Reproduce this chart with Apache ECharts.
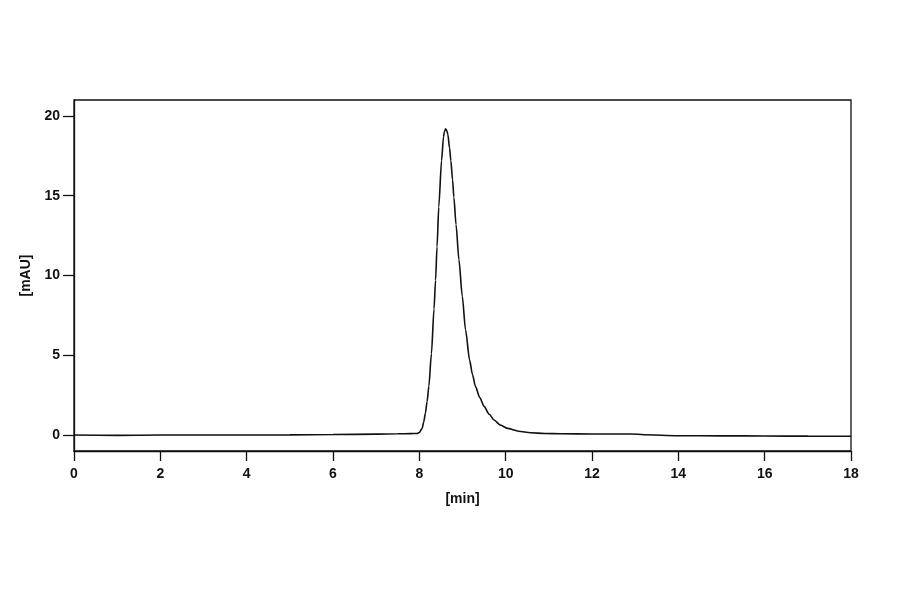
<!DOCTYPE html>
<html>
<head>
<meta charset="utf-8">
<script src="https://cdn.jsdelivr.net/npm/echarts@6/dist/echarts.min.js"></script>
<style>
  html, body { margin: 0; padding: 0; background: #fff; }
  #chart { width: 900px; height: 594px; }
</style>
</head>
<body>
<div id="chart"></div>
<script>
// retention time [min]
var times = [0, 1, 2, 3, 4, 5, 6, 7, 7.5, 7.8, 7.95, 8.0, 8.065, 8.10, 8.14, 8.18, 8.22, 8.28, 8.34, 8.376,
  8.41, 8.45, 8.515, 8.56, 8.58, 8.61, 8.64, 8.66, 8.70, 8.73, 8.77, 8.80, 8.85, 8.917, 8.995, 9.07, 9.165,
  9.23, 9.30, 9.40, 9.50, 9.62, 9.73, 9.88, 10.04, 10.3, 10.58, 10.9, 11.3, 12, 12.9, 13.2, 14, 15, 16, 17, 18]
// signal [mAU]
var signal = [0, -0.02, 0, 0, 0, 0.01, 0.03, 0.06, 0.08, 0.09, 0.1, 0.16, 0.42, 0.8, 1.36, 2.1, 3.05, 5.1, 7.9, 9.7,
  11.8, 14.3, 17.2, 18.7, 19.0, 19.2, 19.05, 18.85, 18.0, 17.2, 16.0, 14.9, 13.2, 11.0, 8.7, 6.6, 4.7,
  3.8, 3.05, 2.35, 1.8, 1.3, 0.94, 0.62, 0.42, 0.24, 0.14, 0.1, 0.08, 0.07, 0.07, 0.02, -0.04, -0.05, -0.06, -0.07, -0.08]
var yTicks = [0, 5, 10, 15, 20]

var points = times.map(function (t, i) { return [t, signal[i]] })

var chart = echarts.init(document.getElementById('chart'))
var font = { fontFamily: 'Liberation Sans', fontWeight: 'bold', fontSize: 14, color: '#111' }

chart.setOption({
  animation: false,
  grid: {
    left: 74, right: 49, top: 100, bottom: 143,
    show: true, borderColor: '#111', borderWidth: 1.3, backgroundColor: 'transparent'
  },
  xAxis: {
    type: 'value',
    min: 0, max: 18, interval: 2,
    name: '[min]',
    nameLocation: 'middle',
    nameGap: 41,
    nameTextStyle: font,
    axisLine: { show: true, onZero: false, lineStyle: { color: '#111', width: 1.3 } },
    axisTick: { show: true, length: 10, lineStyle: { color: '#111', width: 1.3 } },
    axisLabel: Object.assign({ margin: 16 }, font),
    splitLine: { show: false }
  },
  yAxis: {
    type: 'value',
    min: -1, max: 21,
    name: '[mAU]',
    nameLocation: 'middle',
    nameGap: 37,
    nameTextStyle: font,
    axisLine: { show: true, onZero: false, lineStyle: { color: '#111', width: 1.3 } },
    axisTick: { show: true, length: 11, customValues: yTicks, lineStyle: { color: '#111', width: 1.3 } },
    axisLabel: Object.assign({ margin: 14, customValues: yTicks }, font),
    splitLine: { show: false }
  },
  series: [
    {
      type: 'line',
      data: points,
      smooth: 0.25,
      smoothMonotone: 'x',
      showSymbol: false,
      lineStyle: { color: '#111', width: 1.6 }
    }
  ]
})

window.addEventListener('resize', function () {
  chart.resize()
})
</script>
</body>
</html>
